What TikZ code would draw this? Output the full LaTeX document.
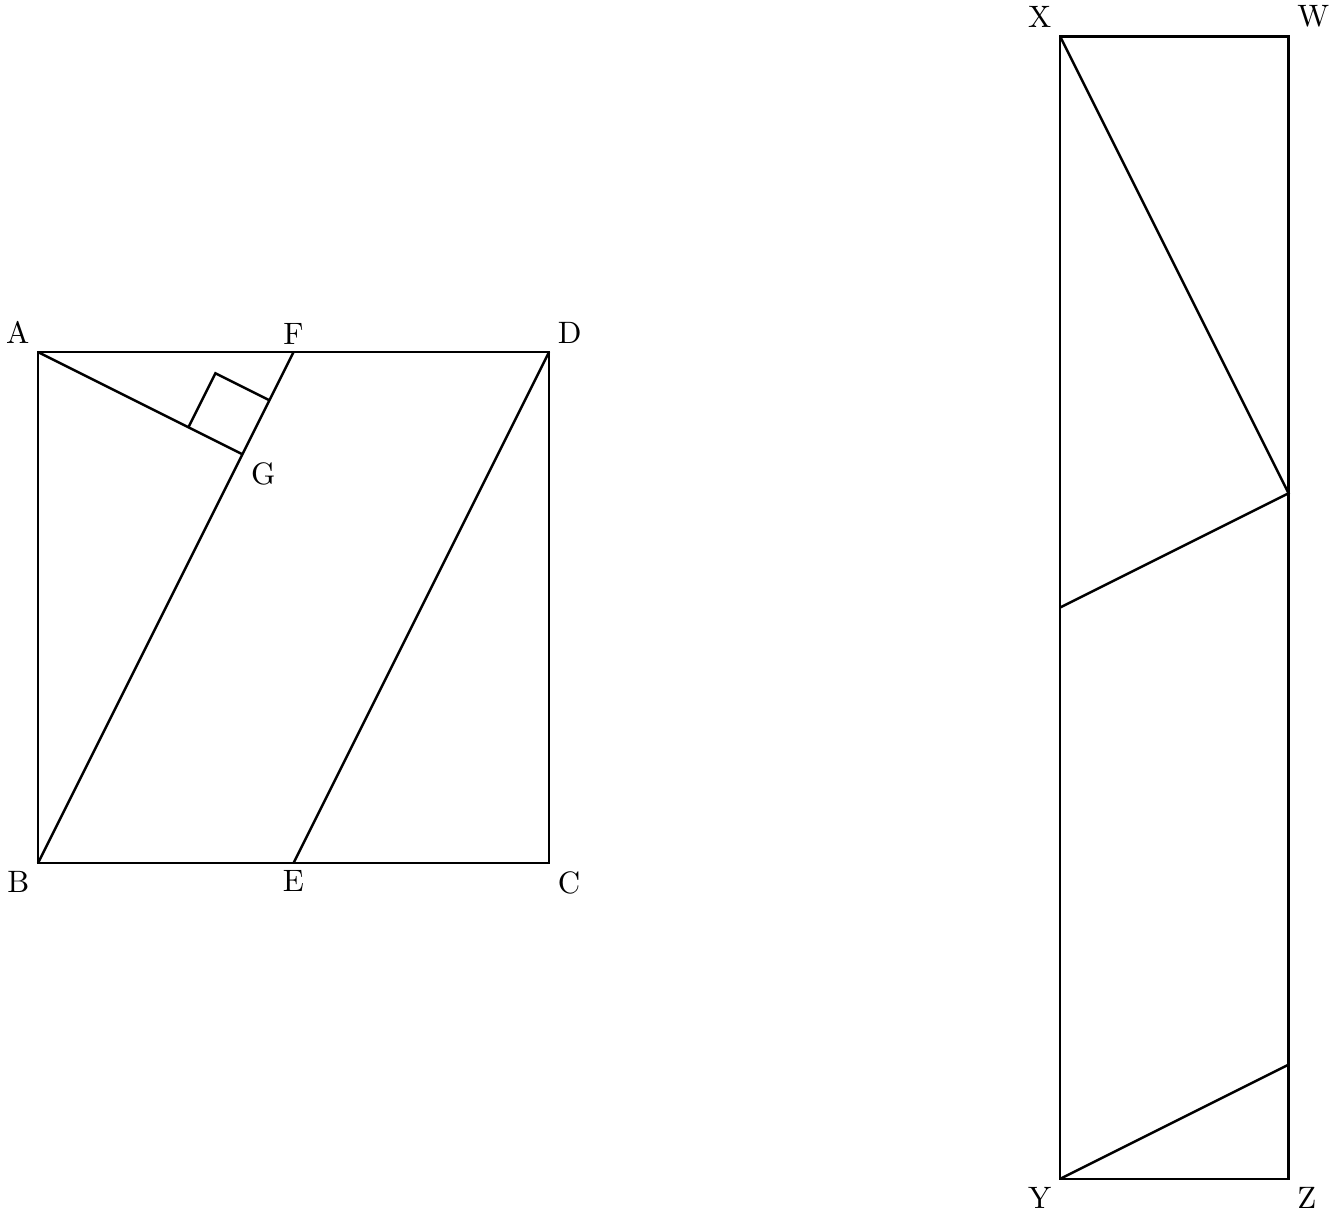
\documentclass[tikz,border=0pt]{standalone}
\usetikzlibrary{calc}
\tikzset{seg/.style={thick, line join=miter}, label distance=-1pt}

\begin{document}
\begin{tikzpicture}[x=5.8cm, y=5.8cm]
\useasboundingbox (-0.0744,-0.693) rectangle (2.542,1.689);
% square ABCD
\coordinate[label=above left:A] (A) at (0,1);
\coordinate[label=below left:B] (B) at (0,0);
\coordinate[label=below right:C] (C) at (1,0);
\coordinate[label=above right:D] (D) at (1,1);
\coordinate[label=below:E] (E) at (0.5,0);
\coordinate[label=above:F] (F) at (0.5,1);
\coordinate[label=below right:G] (G) at (0.4,0.8);
\draw[seg] (A) -- (B) -- (C) -- (D) -- cycle;
\draw[seg] (B) -- (F);
\draw[seg] (E) -- (D);
\draw[seg] (A) -- (G);
% right angle at G
\coordinate (ga) at ($(G)!0.264!(A)$);
\coordinate (gf) at ($(G)!0.528!(F)$);
\coordinate (gc) at ($(ga)+(gf)-(G)$);
\draw[seg] (ga) -- (gc) -- (gf);
% rectangle XYZW
\coordinate[label=above left:X] (X) at (2,1.618);
\coordinate[label=above right:W] (W) at (2.4472,1.618);
\coordinate[label=below left:Y] (Y) at (2,-0.618);
\coordinate[label=below right:Z] (Z) at (2.4472,-0.618);
\coordinate (p) at (2.4472,0.7236);
\coordinate (q) at (2,0.5);
\coordinate (r) at (2.4472,-0.3944);
\draw[seg] (X) -- (Y) -- (Z) -- (W) -- cycle;
\draw[seg] (X) -- (p) -- (q);
\draw[seg] (Y) -- (r);
\end{tikzpicture}
\end{document}
